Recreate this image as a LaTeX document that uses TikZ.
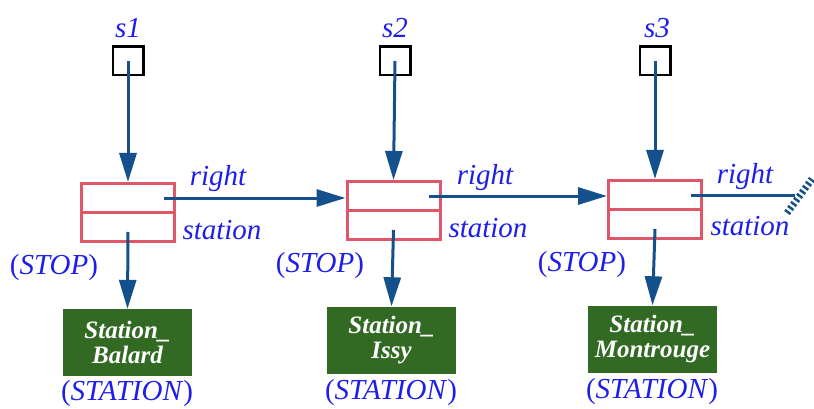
\documentclass[tikz,border=0pt]{standalone}
\usepackage{fontspec}
\setmainfont{LiberationSerif}[Extension=.ttf,UprightFont=*-Regular,
  BoldFont=*-Bold,ItalicFont=*-Italic,BoldItalicFont=*-BoldItalic]
\usetikzlibrary{arrows.meta,positioning,calc}
\definecolor{lnkblue}{RGB}{20,80,140}
\definecolor{lblblue}{RGB}{30,30,235}
\definecolor{stopred}{RGB}{222,86,104}
\definecolor{stgreen}{RGB}{50,105,35}

\begin{document}
\begin{tikzpicture}[x=1pt,y=-1pt,
    ptrbox/.style={draw=black,line width=2.5pt,minimum width=30.5pt,
                   minimum height=28.5pt,inner sep=0pt},
    cell/.style={draw=stopred,line width=3pt,fill=white,
                 minimum width=93pt,minimum height=29pt,inner sep=0pt},
    stbox/.style={fill=stgreen,text=white,minimum width=129pt,
                  minimum height=67pt,align=center,inner sep=0pt,
                  font=\fontsize{25}{25}\selectfont\bfseries\itshape},
    lbl/.style={text=lblblue,inner sep=0pt,
                font=\fontsize{29}{30}\selectfont\itshape},
    link/.style={-{Triangle[length=29pt,width=17pt]},line width=3pt,
                 draw=lnkblue}]
    \useasboundingbox (0,0) rectangle (814,409);
    % pointer variables
    \node[ptrbox] (s1) at (128,61) {};
    \node[ptrbox] (s2) at (395,61) {};
    \node[ptrbox] (s3) at (655,61) {};
    \node[lbl] (s1lbl) at (128,28) {s1};
    \node[lbl] (s2lbl) at (395,28) {s2};
    \node[lbl] (s3lbl) at (657,28) {s3};
    % STOP records
    \node[cell] (stop1top) at (128,198) {};
    \node[cell] (stop1bot) at (128,227) {};
    \node[cell] (stop2top) at (393.5,196) {};
    \node[cell] (stop2bot) at (393.5,225) {};
    \node[cell] (stop3top) at (655,195) {};
    \node[cell] (stop3bot) at (655,224) {};
    % STATION objects
    \node[stbox] (balard) at (127.5,342.5) {Station\_\\Balard};
    \node[stbox] (issy) at (391.5,340) {Station\_\\Issy};
    \node[stbox] (montrouge) at (652.5,339) {Station\_\\Montrouge};
    % labels
    \node[lbl] (right1) at (218,179) {right};
    \node[lbl] (right2) at (485,178) {right};
    \node[lbl] (right3) at (745,177) {right};
    \node[lbl] (station1) at (222,230) {station};
    \node[lbl] (station2) at (488,228) {station};
    \node[lbl] (station3) at (750,226) {station};
    \node[lbl] (stop1lbl) at (54,268) {\textup{(}STOP\textup{)}};
    \node[lbl] (stop2lbl) at (320,266) {\textup{(}STOP\textup{)}};
    \node[lbl] (stop3lbl) at (582,265) {\textup{(}STOP\textup{)}};
    \node[lbl] (st1lbl) at (127,394) {\textup{(}STATION\textup{)}};
    \node[lbl] (st2lbl) at (391,393) {\textup{(}STATION\textup{)}};
    \node[lbl] (st3lbl) at (652,392) {\textup{(}STATION\textup{)}};
    % links
    \draw[link] (s1.center) -- (stop1top.north);
    \draw[link] (s2.center) -- (stop2top.north);
    \draw[link] (s3.center) -- (stop3top.north);
    \draw[link] ([xshift=-12.5pt]stop1top.east) -- (stop1top.east -| stop2top.west);
    \draw[link] ([xshift=-12.5pt]stop2top.east) -- (stop2top.east -| stop3top.west);
    \draw[link] ([yshift=-5pt]stop1bot.center) -- (balard.north);
    \draw[link] ([yshift=-5pt]stop2bot.center) -- (issy.north);
    \draw[link] ([yshift=-5pt]stop3bot.center) -- (montrouge.north);
    % null pointer
    \coordinate (nilend) at (795,195);
    \draw[line width=3pt,draw=lnkblue] ([xshift=-12.5pt]stop3top.east) -- (nilend);
    \draw[line width=7pt,draw=lnkblue,dash pattern=on 2.5pt off 2.5pt]
      (787,213) -- (812,179);
\end{tikzpicture}
\end{document}
